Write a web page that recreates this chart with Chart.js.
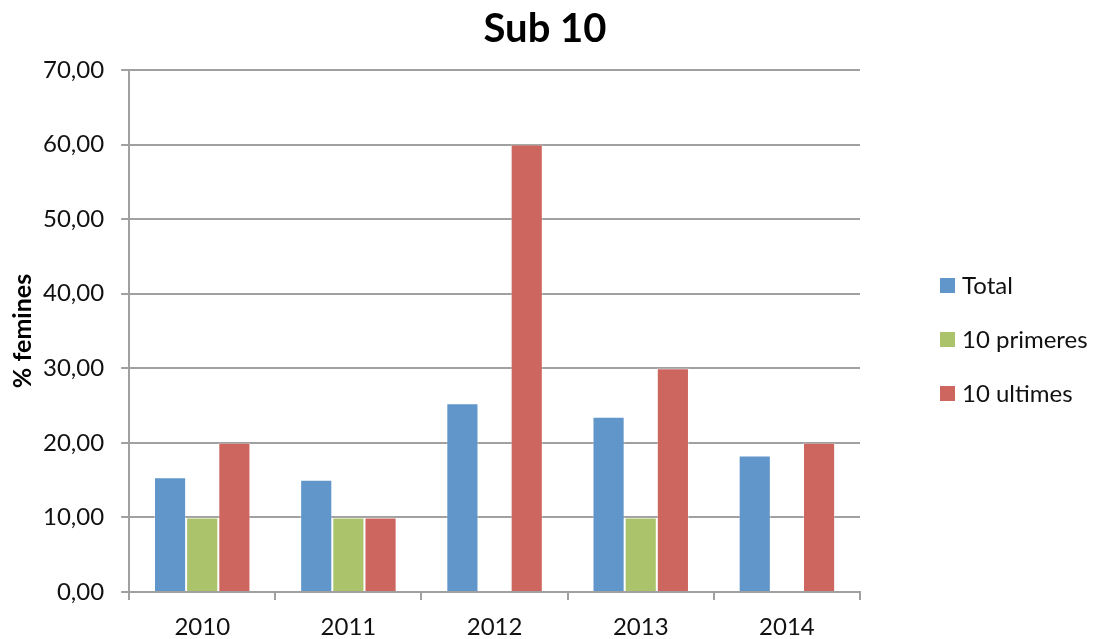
<!DOCTYPE html>
<html>
<head>
<meta charset="utf-8">
<script src="https://cdn.jsdelivr.net/npm/chart.js@4"></script>
<style>
  body { margin: 0; background: #fff; }
  #wrap { position: relative; width: 1095px; height: 639px; }
  #title { position: absolute; left: 0; top: 7px; width: 1090px; text-align: center; font-family: Lato, "Open Sans", sans-serif; font-weight: bold; font-size: 40px; line-height: 40px; color: #000; }
  #legend { position: absolute; left: 940px; top: 268px; font-family: Lato, "Open Sans", sans-serif; font-size: 24px; line-height: 34px; color: #111; }
  #legend div { height: 54px; display: flex; align-items: flex-start; }
  #legend span.box { display: inline-block; width: 15px; height: 15px; margin: 10px 7px 0 0; }
</style>
</head>
<body>
<div id="wrap">
  <canvas id="chart" width="1095" height="639"></canvas>
  <div id="title">Sub 10</div>
  <div id="legend"></div>
</div>
<script>
// data
const years = ['2010', '2011', '2012', '2013', '2014'];
const total = [15.4, 15.05, 25.3, 23.5, 18.3];
const primeres = [10, 10, 0, 10, 0];
const ultimes = [20, 10, 60, 30, 20];
const seriesNames = ['Total', '10 primeres', '10 ultimes'];
const seriesColors = ['#6096ca', '#abc46c', '#cd665f'];

const fontFamily = 'Lato, "Open Sans", sans-serif';
const gridColor = '#a0a0a0';

const datasets = [total, primeres, ultimes].map((values, i) => ({
  label: seriesNames[i],
  data: values,
  backgroundColor: seriesColors[i],
  borderColor: 'rgba(255,255,255,0.35)',
  borderWidth: 1,
  barPercentage: 1,
  categoryPercentage: 0.66
}));

const ctx = document.getElementById('chart').getContext('2d');
new Chart(ctx, {
  type: 'bar',
  data: { labels: years, datasets: datasets },
  options: {
    responsive: false,
    animation: false,
    layout: { padding: { left: 8, right: 235, top: 70, bottom: -15 } },
    plugins: {
      legend: { display: false },
      tooltip: { enabled: false },
      title: { display: false }
    },
    scales: {
      x: {
        grid: { offset: true, drawOnChartArea: false, drawTicks: true, tickLength: 8, color: gridColor, lineWidth: 2 },
        border: { color: gridColor, width: 2 },
        ticks: { color: '#111', font: { family: fontFamily, size: 24, lineHeight: 1 }, padding: 15 }
      },
      y: {
        min: 0,
        max: 70,
        grid: { color: gridColor, lineWidth: 2, drawTicks: true, tickLength: 8 },
        border: { color: gridColor, width: 2 },
        ticks: {
          stepSize: 10,
          color: '#111',
          padding: 17,
          font: { family: fontFamily, size: 24 },
          callback: v => v.toFixed(2).replace('.', ',')
        },
        title: {
          display: true,
          text: '% femines',
          color: '#000',
          font: { family: fontFamily, size: 25, weight: 'bold', lineHeight: 1.2 },
          padding: { top: 0, bottom: -12 }
        }
      }
    }
  }
});

// legend as html
const legend = document.getElementById('legend');
seriesNames.forEach((name, i) => {
  const row = document.createElement('div');
  const box = document.createElement('span');
  box.className = 'box';
  box.style.background = seriesColors[i];
  row.appendChild(box);
  row.appendChild(document.createTextNode(name));
  legend.appendChild(row);
});
</script>
</body>
</html>
